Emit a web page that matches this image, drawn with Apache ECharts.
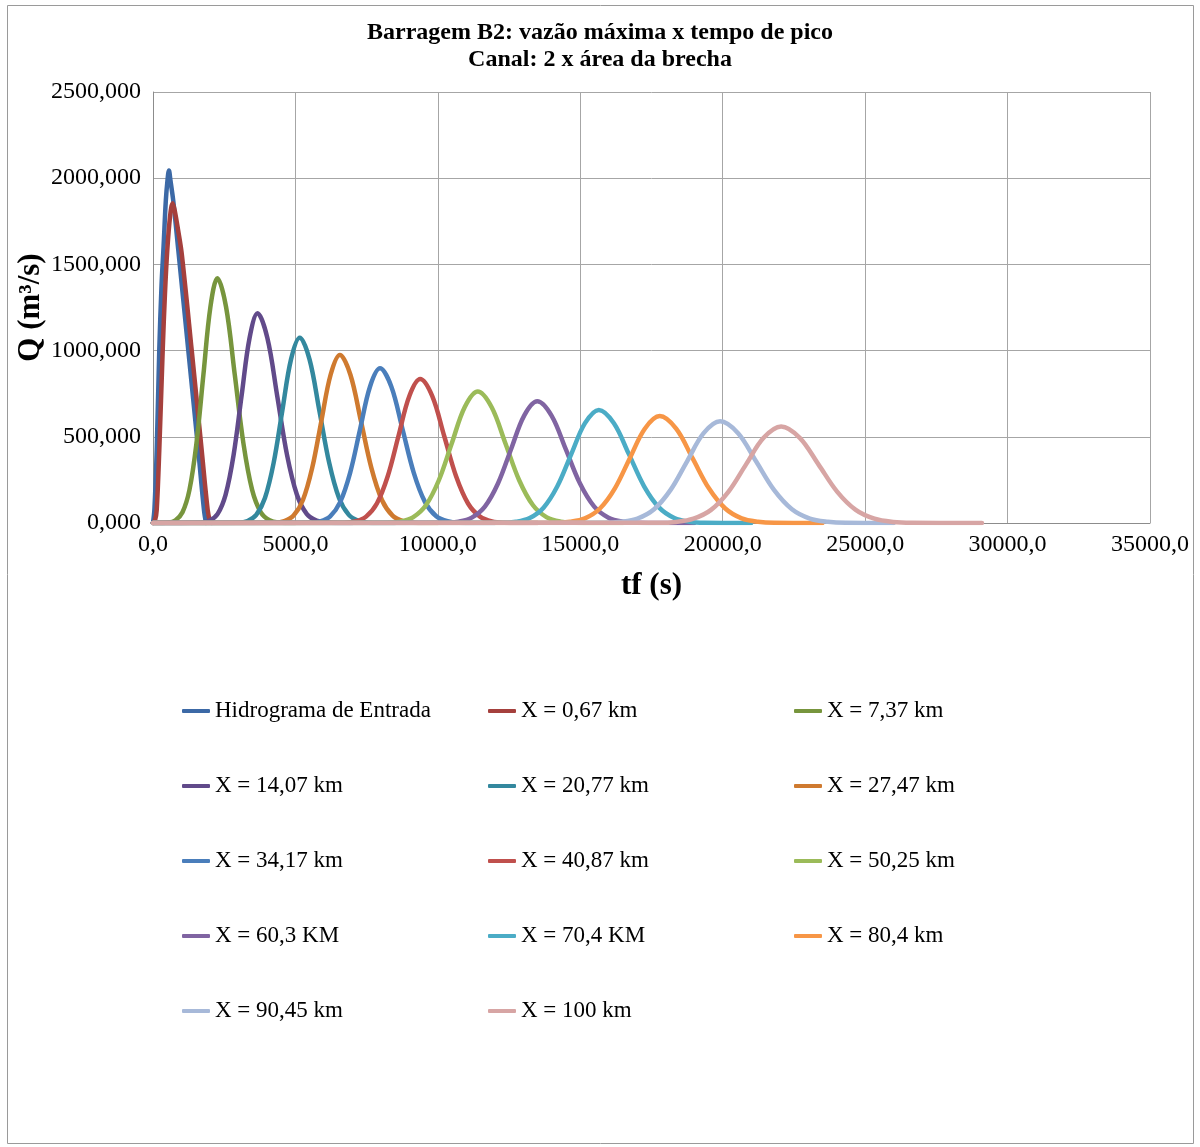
<!DOCTYPE html>
<html>
<head>
<meta charset="utf-8">
<title>Barragem B2</title>
<script src="https://cdn.jsdelivr.net/npm/echarts@6.0.0/dist/echarts.min.js"></script>
<style>
    html, body { margin: 0; padding: 0; background: #fff; }
    #chart { width: 1200px; height: 1147px; }
</style>
</head>
<body>
<div id="chart"></div>
<script>
// hidrogramas ao longo do canal: [tempo (s), vazão (m³/s)]
const hidrograma = [[0,0],[50,80],[130,420],[220,1000],[300,1380],[370,1600],[450,1870],[510,1990],[560,2045],[610,1990],[710,1870],[890,1580],[1240,1000],[1590,420],[1790,75],[1860,0]];
const x067 = [[0,0],[70,15],[130,75],[220,420],[340,1000],[420,1330],[500,1580],[600,1780],[690,1855],[760,1815],[880,1700],[1010,1560],[1360,1000],[1710,420],[1920,75],[2000,10],[2060,0]];
const x737 = [[0,0],[545,3],[790,16],[1035,62],[1280,192],[1525,461],[1770,861],[2015,1253],[2260,1420],[2565,1253],[2870,861],[3175,461],[3480,192],[3785,62],[4090,16],[4395,3],[5000,0]];
const x1407 = [[0,0],[1710,3],[1990,14],[2270,53],[2550,165],[2830,395],[3110,738],[3390,1073],[3670,1216],[4015,1073],[4360,738],[4705,395],[5050,165],[5395,53],[5740,14],[6085,3],[7000,0]];
const x2077 = [[0,0],[3015,2],[3320,12],[3625,47],[3930,145],[4235,349],[4540,652],[4845,949],[5150,1075],[5495,949],[5840,652],[6185,349],[6530,145],[6875,47],[7220,12],[7565,2],[8500,0]];
const x2747 = [[0,0],[4285,2],[4610,11],[4935,43],[5260,132],[5585,317],[5910,591],[6235,860],[6560,975],[6930,860],[7300,591],[7670,317],[8040,132],[8410,43],[8780,11],[9150,2],[10000,0]];
const x3417 = [[0,0],[5520,2],[5870,10],[6220,39],[6570,121],[6920,291],[7270,544],[7620,792],[7970,897],[8365,792],[8760,544],[9155,291],[9550,121],[9945,39],[10340,10],[10735,2],[12000,0]];
const x4087 = [[0,0],[6720,2],[7100,9],[7480,37],[7860,113],[8240,271],[8620,506],[9000,737],[9380,835],[9800,737],[10220,506],[10640,271],[11060,113],[11480,37],[11900,9],[12320,2],[13500,0]];
const x5025 = [[0,0],[8215,2],[8670,8],[9125,33],[9580,103],[10035,248],[10490,463],[10945,673],[11400,763],[11885,673],[12370,463],[12855,248],[13340,103],[13825,33],[14310,8],[14795,2],[16500,0]];
const x603 = [[0,0],[10270,2],[10730,8],[11190,31],[11650,95],[12110,229],[12570,428],[13030,623],[13490,706],[13990,623],[14490,428],[14990,229],[15490,95],[15990,31],[16490,8],[16990,2],[19000,0]];
const x704 = [[0,0],[12255,1],[12740,7],[13225,29],[13710,89],[14195,213],[14680,398],[15165,579],[15650,656],[16180,579],[16710,398],[17240,213],[17770,89],[18300,29],[18830,7],[19360,1],[21000,0]];
const x804 = [[0,0],[14115,1],[14640,7],[15165,27],[15690,84],[16215,201],[16740,376],[17265,547],[17790,620],[18365,547],[18940,376],[19515,201],[20090,84],[20665,27],[21240,7],[21815,1],[23500,0]];
const x9045 = [[0,0],[15850,1],[16430,7],[17010,26],[17590,80],[18170,192],[18750,358],[19330,521],[19910,590],[20540,521],[21170,358],[21800,192],[22430,80],[23060,26],[23690,7],[24320,1],[26000,0]];
const x100 = [[0,0],[17745,1],[18360,6],[18975,25],[19590,76],[20205,182],[20820,340],[21435,494],[22050,560],[22705,494],[23360,340],[24015,182],[24670,76],[25325,25],[25980,6],[26635,1],[29100,0]];

const names = ['Hidrograma de Entrada', 'X = 0,67 km', 'X = 7,37 km', 'X = 14,07 km', 'X = 20,77 km',
    'X = 27,47 km', 'X = 34,17 km', 'X = 40,87 km', 'X = 50,25 km', 'X = 60,3 KM', 'X = 70,4 KM',
    'X = 80,4 km', 'X = 90,45 km', 'X = 100 km'];
const dados = [hidrograma, x067, x737, x1407, x2077, x2747, x3417, x4087, x5025, x603, x704, x804, x9045, x100];
const cores = ['#3c69a6', '#a5403d', '#77953d', '#614a8a', '#33889e', '#cf7a2f', '#4a7ebb',
    '#c0504d', '#9bbb59', '#8064a2', '#4bacc6', '#f79646', '#a7b9d9', '#d7a5a4'];

const fonte = 'Liberation Serif';

const chart = echarts.init(document.getElementById('chart'));

const series = dados.map((d, i) => ({
    name: names[i],
    type: 'line',
    data: d,
    symbol: 'none',
    smooth: 0.35,
    color: cores[i],
    lineStyle: { width: 4.5, color: cores[i], cap: 'round', join: 'round' }
}));

function legenda(left, itens) {
    return {
        orient: 'vertical',
        left: left,
        top: 699,
        padding: 0,
        itemGap: 51,
        itemWidth: 28,
        itemHeight: 4,
        icon: 'roundRect',
        selectedMode: false,
        textStyle: { fontFamily: fonte, fontSize: 23, lineHeight: 24, color: '#000' },
        data: itens
    };
}

const option = {
    animation: false,
    backgroundColor: '#fff',
    title: {
        text: 'Barragem B2: vazão máxima x tempo de pico\nCanal: 2 x área da brecha',
        left: 'center',
        top: 14,
        textStyle: { fontFamily: fonte, fontSize: 24, fontWeight: 'bold', lineHeight: 27, color: '#000' }
    },
    graphic: [{
        type: 'rect',
        shape: { x: 7.5, y: 5.5, width: 1186, height: 1138 },
        style: { fill: 'none', stroke: '#9a9a9a', lineWidth: 1 },
        silent: true
    }],
    legend: [
        legenda(182, [names[0], names[3], names[6], names[9], names[12]]),
        legenda(488, [names[1], names[4], names[7], names[10], names[13]]),
        legenda(794, [names[2], names[5], names[8], names[11]])
    ],
    grid: { left: 153, right: 50, top: 92, bottom: 624 },
    xAxis: {
        type: 'value',
        min: 0,
        max: 35000,
        interval: 5000,
        name: 'tf (s)',
        nameLocation: 'middle',
        nameGap: 47,
        nameTextStyle: { fontFamily: fonte, fontSize: 31, fontWeight: 'bold', color: '#000' },
        axisLine: { show: true, lineStyle: { color: '#8c8c8c', width: 1 } },
        axisTick: { show: false },
        splitLine: { show: true, lineStyle: { color: '#a6a6a6', width: 1 } },
        axisLabel: {
            margin: 10,
            fontFamily: fonte, fontSize: 24, color: '#000',
            formatter: v => v.toFixed(1).replace('.', ',')
        }
    },
    yAxis: {
        type: 'value',
        min: 0,
        max: 2500,
        interval: 500,
        name: 'Q (m³/s)',
        nameLocation: 'middle',
        nameGap: 107,
        nameMoveOverlap: false,
        nameTextStyle: { fontFamily: fonte, fontSize: 31, fontWeight: 'bold', color: '#000' },
        axisLine: { show: true, lineStyle: { color: '#8c8c8c', width: 1 } },
        axisTick: { show: false },
        splitLine: { show: true, lineStyle: { color: '#a6a6a6', width: 1 } },
        axisLabel: {
            margin: 12,
            fontFamily: fonte, fontSize: 24, color: '#000',
            formatter: v => v.toFixed(3).replace('.', ',')
        }
    },
    series: series
};

chart.setOption(option);
</script>
</body>
</html>
